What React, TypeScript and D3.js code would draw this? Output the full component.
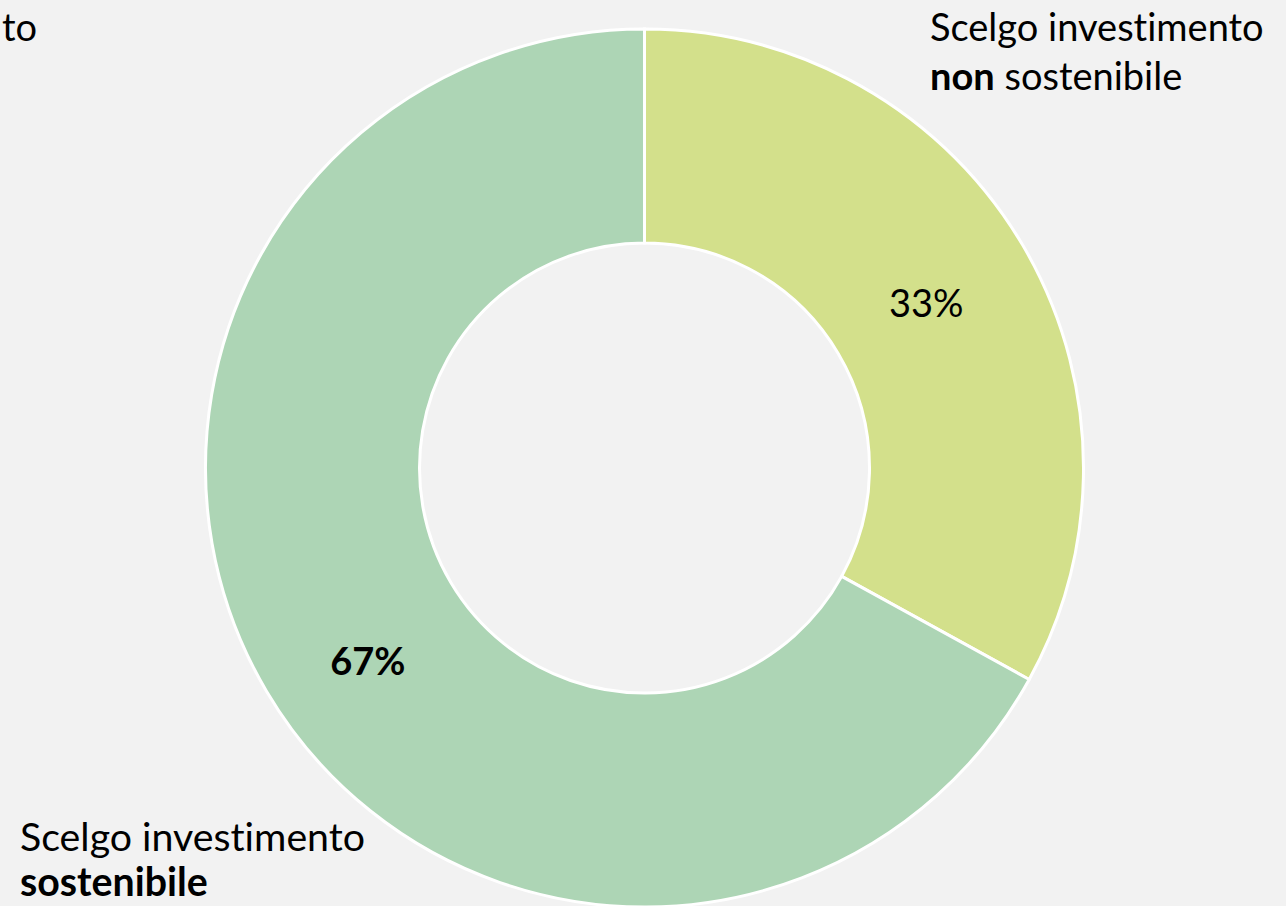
import React from "react";
import * as d3 from "d3";

const categories = ["Scelgo investimento non sostenibile", "Scelgo investimento sostenibile"];
const values = [33, 67];
const percentLabels = ["33%", "67%"];
const colors = ["#d3e08b", "#add5b5"];

const W = 1286;
const H = 906;
const cx = 644.5;
const cy = 468;
const R = 439;
const r0 = 225;
const FONT = "Lato, 'Open Sans', sans-serif";
const FS = 38;
const FS_BOTTOM = 39.3;

export default function App() {
  const pie = d3.pie<number>().sort(null).value((d) => d)(values);
  const arc = d3.arc<d3.PieArcDatum<number>>().innerRadius(r0).outerRadius(R);
  const labelArc = d3.arc<d3.PieArcDatum<number>>().innerRadius((r0 + R) / 2).outerRadius((r0 + R) / 2);
  const txtStyle = { fontVariantLigatures: "none" as const };
  return (
    <div style={{ position: "fixed", left: 0, top: 0 }}>
      <svg width={W} height={H} style={{ display: "block", background: "#f2f2f2" }}>
        <rect x={0} y={0} width={W} height={H} fill="#f2f2f2" />
        <g transform={`translate(${cx},${cy})`}>
          {pie.map((p, i) => (
            <path key={categories[i]} d={arc(p) || ""} fill={colors[i]} stroke="#ffffff" strokeWidth={3} />
          ))}
          {pie.map((p, i) => {
            const [x, y] = labelArc.centroid(p);
            return (
              <text
                key={"l" + i}
                x={x + (i === 1 ? 9 : -4)}
                y={y + (i === 1 ? 23 : 3)}
                textAnchor="middle"
                dominantBaseline="central"
                fontFamily={FONT}
                fontSize={FS}
                fontWeight={i === 1 ? 700 : 400}
                fill="#000"
                style={txtStyle}
              >
                {percentLabels[i]}
              </text>
            );
          })}
        </g>
        <text x={2} y={41} fontFamily={FONT} fontSize={FS} fill="#000" style={txtStyle}>
          to
        </text>
        <text x={930} y={41} fontFamily={FONT} fontSize={FS} fill="#000" style={txtStyle}>
          Scelgo investimento
        </text>
        <text x={930} y={90} fontFamily={FONT} fontSize={FS} fill="#000" style={txtStyle}>
          <tspan fontWeight={700}>non</tspan> sostenibile
        </text>
        <text x={20} y={851} fontFamily={FONT} fontSize={FS_BOTTOM} fill="#000" style={txtStyle}>
          Scelgo investimento
        </text>
        <text x={20} y={896} fontFamily={FONT} fontSize={FS_BOTTOM} fontWeight={700} fill="#000" style={txtStyle}>
          sostenibile
        </text>
      </svg>
    </div>
  );
}
